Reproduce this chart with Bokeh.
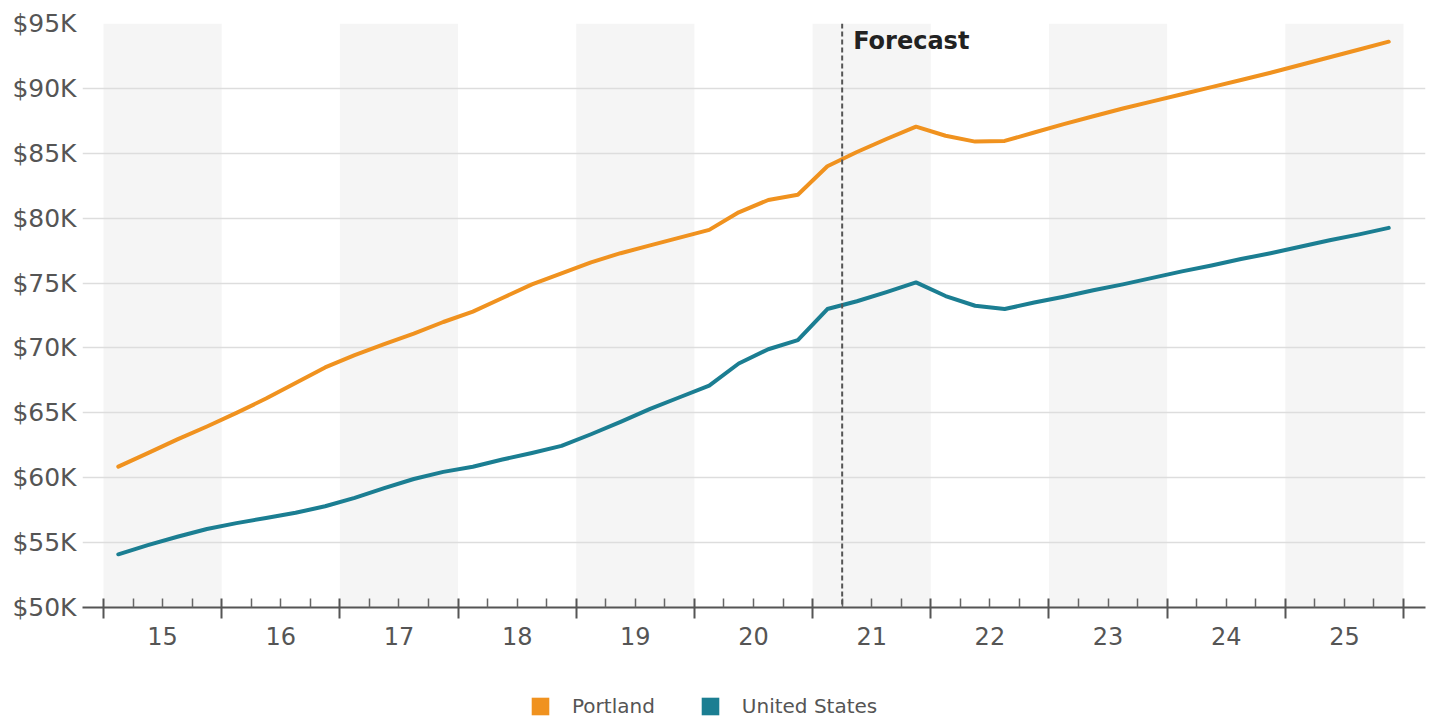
from bokeh.plotting import figure
from bokeh.layouts import column
from bokeh.models import (Range1d, LinearAxis, FixedTicker, Span, Label, Legend, LegendItem)
from bokeh.embed import file_html
from bokeh.resources import INLINE

# ---------------- data ----------------
years = list(range(2015, 2026))
quarters = [1, 2, 3, 4]
year_labels = ["15", "16", "17", "18", "19", "20", "21", "22", "23", "24", "25"]
shaded_years = [2015, 2017, 2019, 2021, 2023, 2025]
forecast_start = 2021.25

# quarterly values, thousands of dollars (2015Q1 ... 2025Q4)
portland = [60.85, 61.9, 62.95, 63.95, 65.0, 66.1, 67.3, 68.5,
            69.45, 70.3, 71.1, 72.0, 72.8, 73.85, 74.9, 75.75,
            76.6, 77.3, 77.9, 78.5, 79.1, 80.45, 81.4, 81.8,
            84.0, 85.1, 86.1, 87.05, 86.35, 85.9, 85.95, 86.6,
            87.25, 87.85, 88.45, 89.0, 89.55, 90.1, 90.65, 91.2,
            91.8, 92.4, 93.0, 93.6]
united_states = [54.1, 54.8, 55.45, 56.05, 56.5, 56.9, 57.3, 57.8,
                 58.45, 59.2, 59.9, 60.45, 60.85, 61.4, 61.9, 62.45,
                 63.35, 64.3, 65.3, 66.2, 67.1, 68.8, 69.9, 70.6,
                 73.0, 73.6, 74.3, 75.05, 74.0, 73.25, 73.0, 73.5,
                 73.95, 74.45, 74.9, 75.4, 75.9, 76.35, 76.85, 77.3,
                 77.8, 78.3, 78.75, 79.25]
y_ticks = [50000, 55000, 60000, 65000, 70000, 75000, 80000, 85000, 90000, 95000]
y_tick_labels = ["$50K", "$55K", "$60K", "$65K", "$70K", "$75K", "$80K", "$85K", "$90K", "$95K"]
series_names = ["Portland", "United States"]

x = [yr + (q - 0.5) / 4 for yr in years for q in quarters]
portland_usd = [v * 1000 for v in portland]
us_usd = [v * 1000 for v in united_states]

ORANGE = "#F0921F"
TEAL = "#1B7E92"
FONT = "DejaVu Sans"

p = figure(width=1437, height=660, output_backend="svg", toolbar_location=None,
           x_range=Range1d(2014.822, 2026.186), y_range=Range1d(y_ticks[0], y_ticks[-1]),
           x_axis_type=None,
           min_border_left=82, min_border_right=12, min_border_top=23, min_border_bottom=53)
p.outline_line_color = None
p.background_fill_color = "white"

# alternating year bands
p.quad(left=shaded_years, right=[yr + 1 for yr in shaded_years],
       bottom=y_ticks[0], top=y_ticks[-1],
       fill_color="#f5f5f5", line_color=None, level="image")

# y axis
yax = p.yaxis[0]
yax.ticker = FixedTicker(ticks=y_ticks, minor_ticks=[])
yax.major_label_overrides = dict(zip(y_ticks, y_tick_labels))
yax.axis_line_color = None
yax.major_tick_line_color = None
yax.minor_tick_line_color = None
yax.major_label_text_font = FONT
yax.major_label_text_font_size = "25px"
yax.major_label_text_color = "#555555"
yax.major_label_standoff = 0
p.ygrid.ticker = yax.ticker
p.ygrid.grid_line_color = "#dddddd"
p.ygrid.grid_line_width = 1.5

# x axis: year boundary ticks + quarter ticks
boundaries = years + [years[-1] + 1]
minor_q = [yr + k / 4 for yr in years for k in (1, 2, 3)]
ax1 = LinearAxis(ticker=FixedTicker(ticks=boundaries, minor_ticks=minor_q))
ax1.major_label_overrides = {b: "" for b in boundaries}
ax1.major_label_text_font_size = "1px"
ax1.major_label_standoff = 0
ax1.axis_line_color = "#555555"
ax1.axis_line_width = 2
ax1.major_tick_line_color = "#555555"
ax1.major_tick_line_width = 2
ax1.major_tick_in = 9
ax1.major_tick_out = 11
ax1.minor_tick_line_color = "#666666"
ax1.minor_tick_line_width = 1.5
ax1.minor_tick_in = 9
ax1.minor_tick_out = 0
p.add_layout(ax1, "below")

# x axis: year labels centred in each year
centers = [yr + 0.5 for yr in years]
ax2 = LinearAxis(ticker=FixedTicker(ticks=centers, minor_ticks=[]))
ax2.major_label_overrides = dict(zip(centers, year_labels))
ax2.axis_line_color = None
ax2.major_tick_line_color = None
ax2.minor_tick_line_color = None
ax2.major_tick_in = 0
ax2.major_tick_out = 0
ax2.minor_tick_in = 0
ax2.minor_tick_out = 0
ax2.major_label_standoff = 8
ax2.major_label_text_font = FONT
ax2.major_label_text_font_size = "24px"
ax2.major_label_text_color = "#555555"
p.add_layout(ax2, "below")

# forecast marker
p.add_layout(Span(location=forecast_start, dimension="height", line_color="#555555",
                  line_width=2, line_dash="5 3"))
p.add_layout(Label(x=forecast_start, y=y_ticks[-1], x_offset=11, y_offset=-3,
                   text="Forecast", text_font=FONT, text_font_style="bold",
                   text_font_size="24px", text_color="#222222", text_baseline="top"))

# lines
p.line(x, portland_usd, line_color=ORANGE, line_width=4, line_join="round", line_cap="round")
p.line(x, us_usd, line_color=TEAL, line_width=4, line_join="round", line_cap="round")

# legend strip (separate empty figure underneath)
lf = figure(width=1437, height=61, output_backend="svg", toolbar_location=None,
            x_axis_type=None, y_axis_type=None,
            min_border_left=0, min_border_right=0, min_border_top=0, min_border_bottom=0)
lf.outline_line_color = None
lf.xgrid.visible = False
lf.ygrid.visible = False
nan = float("nan")
r1 = lf.quad(left=[nan], right=[nan], top=[nan], bottom=[nan], fill_color=ORANGE, line_color=None)
r2 = lf.quad(left=[nan], right=[nan], top=[nan], bottom=[nan], fill_color=TEAL, line_color=None)
legend = Legend(items=[LegendItem(label=series_names[0], renderers=[r1]),
                       LegendItem(label=series_names[1], renderers=[r2])],
                location=(447, 3), orientation="horizontal",
                glyph_width=22, glyph_height=22, label_height=22,
                label_standoff=21, spacing=44, padding=0, margin=0,
                border_line_color=None, background_fill_alpha=0,
                label_text_font=FONT, label_text_font_size="20px",
                label_text_color="#555555")
lf.add_layout(legend)

layout = column(p, lf, spacing=0)
open("out.html", "w").write(file_html(layout, INLINE))
